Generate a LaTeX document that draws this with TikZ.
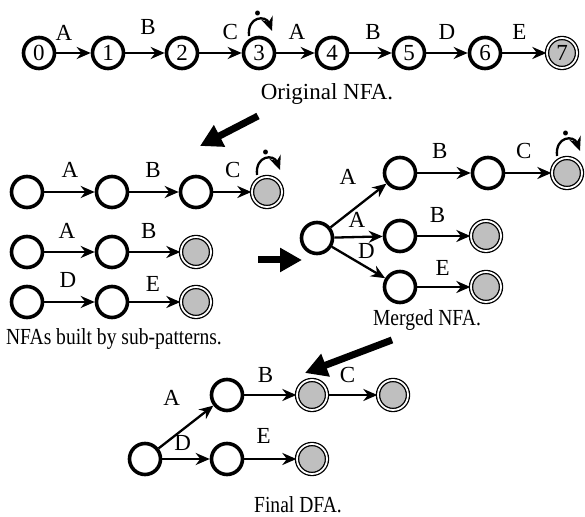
\documentclass[tikz,border=0pt]{standalone}
\usepackage{fontspec}
\setmainfont{Liberation Serif}
\newfontfamily\capfont[FakeStretch=0.85]{Liberation Serif}
\usetikzlibrary{arrows.meta}

\tikzset{
  state/.style={circle, draw, line width=1.8pt, minimum size=15.5pt, inner sep=0pt},
  accept/.style={circle, draw, line width=0.65pt, double, double distance=0.9pt,
    fill=black!25, minimum size=15pt, inner sep=0pt},
  trans/.style={-{Stealth[length=7pt,width=6pt]}, line width=1.15pt},
  lbl/.style={inner sep=0pt},
  anydot/.style={midway, above=1.5pt, inner sep=0pt, font=\fontsize{15}{16}\selectfont\bfseries},
  selfloop/.style={to path={([shift={(-10,-17)}]\tikztostart.center)
    .. controls +(-2,-20) and +(-6,-16) .. ([shift={(13,-22)}]\tikztostart.center) \tikztonodes}},
  bigarrow/.style={-{Triangle[length=11pt,width=11.5pt]}, line width=3.5pt},
  caption/.style={anchor=base, inner sep=0pt},
  narrowcap/.style={caption, font=\fontsize{11.5}{13.8}\capfont}
}

\begin{document}
\begin{tikzpicture}[x=0.5pt, y=-0.5pt, font=\fontsize{11.5}{13.8}\selectfont]

    \useasboundingbox (0,0) rectangle (585,517);

    % original NFA
    \node[state] (n0) at (39,53) {0};
    \node[state] (n1) at (108,53) {1};
    \node[state] (n2) at (182,53) {2};
    \node[state] (n3) at (259,53) {3};
    \node[state] (n4) at (332,53) {4};
    \node[state] (n5) at (409,53) {5};
    \node[state] (n6) at (485,53) {6};
    \node[accept] (n7) at (562,53) {7};

    \draw[trans] (n0) -- node[lbl, pos=.22, above=5.5pt] {A} (n1);
    \draw[trans] (n1) -- node[lbl, pos=.58, above=8.5pt] {B} (n2);
    \draw[trans] (n2) -- node[lbl, pos=.73, above=6pt] {C} (n3);
    \draw[trans] (n3) to[selfloop] node[anydot] {.} (n3);
    \draw[trans] (n3) -- node[lbl, pos=.54, above=6pt] {A} (n4);
    \draw[trans] (n4) -- node[lbl, pos=.56, above=6pt] {B} (n5);
    \draw[trans] (n5) -- node[lbl, pos=.5, above=6pt] {D} (n6);
    \draw[trans] (n6) -- node[lbl, pos=.39, above=6pt] {E} (n7);

    \node[caption] (cap1) at (327,100) {Original NFA.};

    % NFAs of the sub-patterns
    \node[state] (a1) at (27,192) {};
    \node[state] (a2) at (112,192) {};
    \node[state] (a3) at (196,192) {};
    \node[accept] (a4) at (267,192) {};
    \draw[trans] (a1) -- node[lbl, pos=.51, above=6.5pt] {A} (a2);
    \draw[trans] (a2) -- node[lbl, pos=.48, above=6.5pt] {B} (a3);
    \draw[trans] (a3) -- node[lbl, pos=.51, above=6.5pt] {C} (a4);
    \draw[trans] (a4) to[selfloop] node[anydot] {.} (a4);

    \node[state] (b1) at (27,252) {};
    \node[state] (b2) at (112,252) {};
    \node[accept] (b3) at (196,252) {};
    \draw[trans] (b1) -- node[lbl, pos=.45, above=6pt] {A} (b2);
    \draw[trans] (b2) -- node[lbl, pos=.38, above=6pt] {B} (b3);

    \node[state] (c1) at (27,302) {};
    \node[state] (c2) at (112,302) {};
    \node[accept] (c3) at (196,302) {};
    \draw[trans] (c1) -- node[lbl, pos=.47, above=6.5pt] {D} (c2);
    \draw[trans] (c2) -- node[lbl, pos=.46, above=4.5pt] {E} (c3);

    \node[narrowcap] (cap2) at (114,345) {NFAs built by sub-patterns.};

    % merged NFA
    \node[state] (m0) at (317,238) {};
    \node[state] (m1) at (400,173) {};
    \node[state] (m2) at (488,173) {};
    \node[accept] (m3) at (567,173) {};
    \node[state] (m4) at (400,236) {};
    \node[accept] (m5) at (486,236) {};
    \node[state] (m6) at (400,287) {};
    \node[accept] (m7) at (486,287) {};
    \draw[trans] (m0) -- node[lbl, pos=.31, above=14.3pt] {A} (m1);
    \draw[trans] (m0) -- node[lbl, pos=.47, above=4pt] {A} (m4);
    \draw[trans] (m0) -- node[lbl, pos=.47, anchor=south west, yshift=1pt] {D} (m6);
    \draw[trans] (m1) -- node[lbl, pos=.42, above=6.5pt] {B} (m2);
    \draw[trans] (m2) -- node[lbl, pos=.4, above=6.5pt] {C} (m3);
    \draw[trans] (m3) to[selfloop] node[anydot] {.} (m3);
    \draw[trans] (m4) -- node[lbl, pos=.38, above=6pt] {B} (m5);
    \draw[trans] (m6) -- node[lbl, pos=.48, above=5pt] {E} (m7);

    \node[narrowcap] (cap3) at (427,326) {Merged NFA.};

    % final DFA
    \node[state] (f0) at (145,459) {};
    \node[state] (f1) at (227,395) {};
    \node[accept] (f2) at (312,395) {};
    \node[accept] (f3) at (393,395) {};
    \node[state] (f4) at (227,459) {};
    \node[accept] (f5) at (312,459) {};
    \draw[trans] (f0) -- node[lbl, pos=.24, above=15.5pt] {A} (f1);
    \draw[trans] (f0) -- node[lbl, pos=.43, above=3.5pt] {D} (f4);
    \draw[trans] (f1) -- node[lbl, pos=.41, above=5.5pt] {B} (f2);
    \draw[trans] (f2) -- node[lbl, pos=.4, above=5.5pt] {C} (f3);
    \draw[trans] (f4) -- node[lbl, pos=.37, above=7pt] {E} (f5);

    \node[narrowcap] (cap4) at (298,513) {Final DFA.};

    % the steps between them
    \coordinate (s1) at (258,116);
    \coordinate (e1) at (200,146);
    \coordinate (s2) at (258,260);
    \coordinate (e2) at (302,260);
    \coordinate (s3) at (392,340);
    \coordinate (e3) at (305,373);
    \draw[bigarrow] (s1) -- (e1);
    \draw[bigarrow] (s2) -- (e2);
    \draw[bigarrow] (s3) -- (e3);

\end{tikzpicture}
\end{document}
